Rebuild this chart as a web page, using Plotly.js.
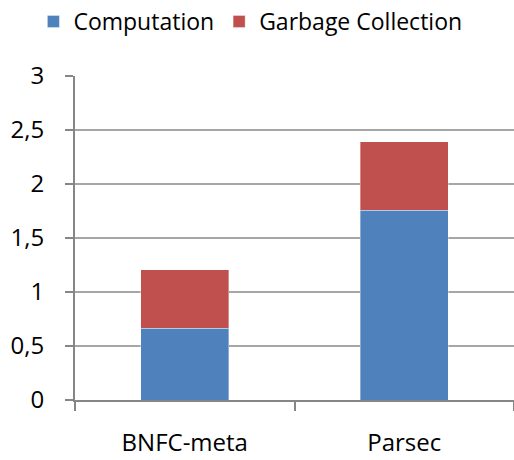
<!DOCTYPE html>
<html>
<head>
<meta charset="utf-8">
<script src="https://cdn.plot.ly/plotly-3.0.1.min.js"></script>
<style>html,body{margin:0;padding:0;background:#fff;}#chart{width:514px;height:460px;}</style>
</head>
<body>
<div id="chart"></div>
<script>
const categories = ["BNFC-meta", "Parsec"];
const computation = [0.665, 1.755];
const garbageCollection = [0.54, 0.635];
const seriesNames = ["Computation", "Garbage Collection"];
const yTickValues = [0, 0.5, 1, 1.5, 2, 2.5, 3];

const traces = [
  {type: "bar", name: seriesNames[0], x: categories, y: computation,
   marker: {color: "#4F81BD", line: {color: "rgba(255,255,255,0.35)", width: 1}}},
  {type: "bar", name: seriesNames[1], x: categories, y: garbageCollection,
   marker: {color: "#C0504D", line: {color: "rgba(255,255,255,0.35)", width: 1}}}
];

const layout = {
  width: 514, height: 460,
  margin: {l: 75, r: 0, t: 76, b: 60},
  paper_bgcolor: "#fff", plot_bgcolor: "#fff",
  barmode: "stack", bargap: 0.6,
  separators: ", ",
  font: {family: "Open Sans, sans-serif", size: 24, color: "#000"},
  showlegend: true,
  legend: {orientation: "h", xref: "container", yref: "container", x: 0.065, y: 1, yanchor: "top", xanchor: "left",
           font: {size: 23, color: "#000"}, traceorder: "normal"},
  xaxis: {type: "category", range: [-0.5, 1.5], tickson: "boundaries", ticks: "outside", ticklen: 9,
          tickcolor: "#868686", tickwidth: 2, showline: true, linecolor: "#868686", linewidth: 2,
          showgrid: false, zeroline: false, ticklabelstandoff: 20, fixedrange: true},
  yaxis: {range: [0, 3], tickvals: yTickValues, ticks: "outside", ticklen: 8, tickcolor: "#868686", tickwidth: 2,
          showline: true, linecolor: "#868686", linewidth: 2, showgrid: true, gridcolor: "#a6a6a6", gridwidth: 1.5,
          zeroline: false, ticklabelstandoff: 16, fixedrange: true}
};

Plotly.newPlot("chart", traces, layout, {displayModeBar: false, staticPlot: true});
</script>
</body>
</html>
